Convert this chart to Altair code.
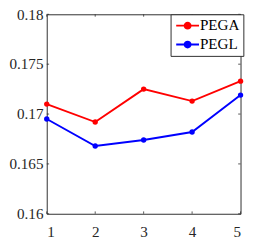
import altair as alt
import pandas as pd

x_vals = [1, 2, 3, 4, 5]
pega = [0.1710, 0.1692, 0.1725, 0.1713, 0.1733]
pegl = [0.1695, 0.1668, 0.1674, 0.1682, 0.1719]
series = ["PEGA", "PEGL"]
colors = ["#FF0000", "#0000FF"]
y_ticks = [0.16, 0.165, 0.17, 0.175, 0.18]

rows = []
for s, vals in zip(series, [pega, pegl]):
    for xv, yv in zip(x_vals, vals):
        rows.append({"x": xv, "y": yv, "series": s})
df = pd.DataFrame(rows)

W, H = 205, 211
FONT = "Liberation Serif"
AX = "#262626"

xs = alt.Scale(domain=[1, 5], nice=False)
ys = alt.Scale(domain=[0.16, 0.18], nice=False, zero=False)

sym = "M-2.1,0H2.1M-0.55,0A0.55,0.55 0 1,0 0.55,0A0.55,0.55 0 1,0 -0.55,0Z"

color = alt.Color(
    "series:N",
    scale=alt.Scale(domain=series, range=colors),
    legend=alt.Legend(
        title=None, orient="none", legendX=131, legendY=0,
        symbolType=sym, symbolSize=132, symbolStrokeWidth=2,
        symbolOffset=6, labelOffset=5,
        labelFont=FONT, labelFontSize=16, labelColor="black",
        padding=4, rowPadding=4,
        strokeColor=AX, fillColor="white",
    ),
)

base = alt.Chart(df).encode(
    x=alt.X("x:Q", scale=xs, axis=alt.Axis(values=x_vals, format="d", title=None, grid=False,
                                           ticks=False, labelPadding=11, domain=False,
                                           labelFont=FONT, labelFontSize=16, labelColor=AX)),
    y=alt.Y("y:Q", scale=ys, axis=alt.Axis(values=y_ticks, format=".3~f", title=None, grid=False,
                                           ticks=False, labelPadding=4, domain=False,
                                           labelFont=FONT, labelFontSize=16, labelColor=AX)),
    color=color,
)

lines = base.mark_line(strokeWidth=2)
points = base.mark_point(filled=True, size=32, opacity=1, strokeWidth=1.5)

# inward ticks
xt = pd.DataFrame({"t": x_vals})
yt = pd.DataFrame({"t": y_ticks})
tl = 2.5
xb = alt.Chart(xt).mark_rule(color=AX, strokeWidth=0.8).encode(
    x=alt.X("t:Q", scale=xs), y=alt.value(H), y2=alt.value(H - tl))
xtop = alt.Chart(xt).mark_rule(color=AX, strokeWidth=0.8).encode(
    x=alt.X("t:Q", scale=xs), y=alt.value(0), y2=alt.value(tl))
yl = alt.Chart(yt).mark_rule(color=AX, strokeWidth=0.8).encode(
    y=alt.Y("t:Q", scale=ys), x=alt.value(0), x2=alt.value(tl))
yr = alt.Chart(yt).mark_rule(color=AX, strokeWidth=0.8).encode(
    y=alt.Y("t:Q", scale=ys), x=alt.value(W), x2=alt.value(W - tl))

chart = alt.layer(xb, xtop, yl, yr, lines, points).properties(
    width=W, height=H,
    background="white",
    autosize=alt.AutoSizeParams(type="none"),
    padding={"left": 41, "top": 0, "right": 10, "bottom": 20},
).configure_view(stroke=AX, strokeWidth=1)

chart.save("out.html", embed_options={"renderer": "svg", "actions": False})
